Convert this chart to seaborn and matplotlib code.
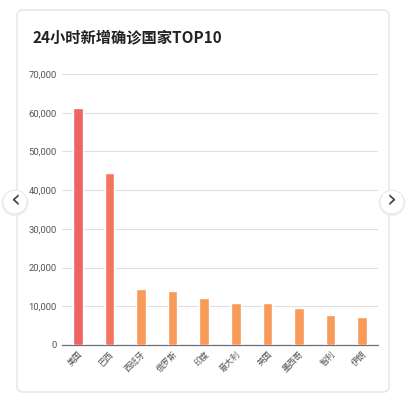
import matplotlib
matplotlib.use("Agg")
import matplotlib.pyplot as plt
import seaborn as sns
import pandas as pd
from matplotlib.patches import FancyBboxPatch, Circle
from matplotlib.ticker import FuncFormatter

# data
countries = ["美国", "巴西", "西班牙", "俄罗斯", "印度", "意大利", "英国", "墨西哥", "智利", "伊朗"]
new_cases = [61200, 44400, 14450, 13900, 12100, 10950, 10850, 9600, 7700, 7350]
bar_colors = ["#ee6464", "#f3745f", "#f89a58", "#f89a58", "#f89a58",
              "#f89a58", "#f89a58", "#f89a58", "#f89a58", "#f89a58"]
title = "24小时新增确诊国家TOP10"

df = pd.DataFrame({"country": countries, "cases": new_cases})

sns.set_style("white")
plt.rcParams["font.family"] = ["Noto Sans CJK SC", "DejaVu Sans"]

W, H = 414, 403
fig = plt.figure(figsize=(W / 100, H / 100), dpi=100)

# card background
card = FancyBboxPatch((17 / W, 1 - 392 / H), (389 - 17) / W, (392 - 10) / H,
                      boxstyle="round,pad=0,rounding_size=0.015",
                      transform=fig.transFigure, facecolor="white",
                      edgecolor="#e4e4e4", linewidth=1.0, zorder=-1)
fig.patches.append(card)

ax = fig.add_axes([62 / W, 1 - 345 / H, (378 - 62) / W, (345 - 74) / H])
ax.set_facecolor("none")
sns.barplot(data=df, x="country", y="cases", hue="country", palette=bar_colors,
            legend=False, width=0.3, saturation=1, ax=ax, zorder=3)

ax.set_ylim(0, 70000)
ax.set_yticks(range(0, 70001, 10000))
ax.yaxis.set_major_formatter(FuncFormatter(lambda v, p: f"{int(v):,}"))
ax.grid(axis="y", color="#e0e0e0", linewidth=0.8, zorder=0)
ax.set_axisbelow(True)
for s in ["top", "right", "left"]:
    ax.spines[s].set_visible(False)
ax.spines["bottom"].set_color("#6e7079")
ax.spines["bottom"].set_linewidth(0.9)
ax.set_xlabel("")
ax.set_ylabel("")
ax.tick_params(axis="y", length=0, labelsize=6.8, labelcolor="#555555", pad=4)
ax.tick_params(axis="x", length=0, labelsize=6, labelcolor="#555555", pad=3)
for lbl in ax.get_yticklabels():
    lbl.set_family(["Roboto", "DejaVu Sans"])
for lbl in ax.get_xticklabels():
    lbl.set_rotation(45)
    lbl.set_ha("right")
    lbl.set_rotation_mode("anchor")

fig.text(33 / W, 1 - 37 / H, title, fontsize=11, fontweight="bold",
         color="#222222", va="center", ha="left")

# carousel arrows
for cx, arrow in [(15, "‹"), (392, "›")]:
    shadow = Circle((cx / W, 1 - 203 / H), 13.5 / W, transform=fig.transFigure,
                    facecolor="#eeeeee", edgecolor="none", zorder=4)
    c = Circle((cx / W, 1 - 202 / H), 12 / W, transform=fig.transFigure,
               facecolor="white", edgecolor="#e8e8e8", linewidth=0.6, zorder=5)
    fig.patches.extend([shadow, c])
    fig.text(cx / W, 1 - 201 / H, arrow, fontsize=18, color="#444444",
             ha="center", va="center", family=["DejaVu Sans"], zorder=6)

fig.savefig("out.png", dpi=100)
